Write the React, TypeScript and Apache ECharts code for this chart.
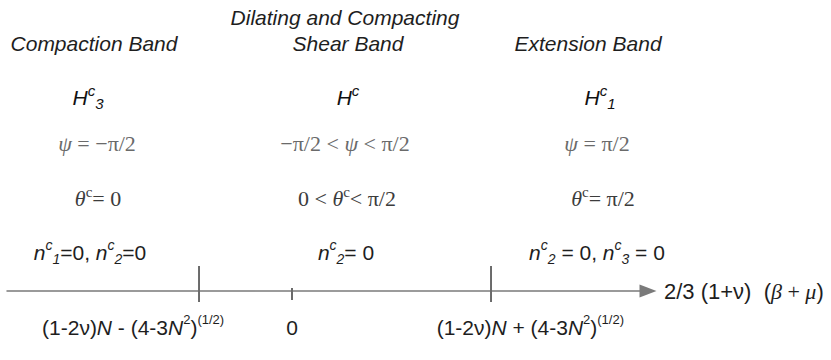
import React, { useEffect, useRef } from "react";
import * as echarts from "echarts";

// ---- data ----
// positions of the three marked points along the axis 2/3 (1+ν)(β+μ)
const tickValues = [-1, 0, 2.14];
const tickKinds = ["major", "minor", "major"];
const tickLabels = [
  "{r|(1-2ν)}{i|N}{r| - (4-3}{i|N}{sr|2}{r|)}{sr|(1/2)}",
  "{r|0}",
  "{r|(1-2ν)}{i|N}{r| + (4-3}{i|N}{sr|2}{r|)}{sr|(1/2)}",
];
const axisRange = [-3.065, 3.828];
const axisTitle = "{r|2/3 (1+ν)  (}{gi|β}{gr| + }{gi|μ}{r|)}";

const bandTitles = ["{t|Compaction Band}", "{t|Shear Band}", "{t|Extension Band}"];
const bandTitleTop = "{t|Dilating and Compacting}";
const hardening = ["{i|H}{hs|c}{hb|3}", "{i|H}{hs|c}", "{i|H}{hs|c}{hb|1}"];
const psiRow = [
  "{gi|ψ}{g| = −π/2}",
  "{g|−π/2 < }{gi|ψ}{g| < π/2}",
  "{gi|ψ}{g| = π/2}",
];
const thetaRow = [
  "{gi|θ}{gs|c}{g|= 0}",
  "{g|0 < }{gi|θ}{gs|c}{g|< π/2}",
  "{gi|θ}{gs|c}{g|= π/2}",
];
const normalRow = [
  "{i|n}{si|c}{sb|1}{r|=0, }{i|n}{si|c}{sb|2}{r|=0}",
  "{i|n}{si|c}{sb|2}{r|= 0}",
  "{i|n}{si|c}{sb|2}{r| = 0, }{i|n}{si|c}{sb|3}{r| = 0}",
];

// ---- layout ----
const colX = {
  title: [94, 348, 588],
  H: [88, 348, 600],
  psi: [97, 345, 597],
  theta: [98, 347, 603],
  n: [90, 346, 597],
};
const rowY = { dil: 17, title: 43, H: 97, psi: 143, theta: 198, n: 252, axis: 291, bottom: 327 };
// label anchor relative to its tick, and alignment
const labelShift = [-157, 0, 133];
const labelAlign = ["left", "center", "right"];

const SANS = "'Liberation Sans', Arial, Helvetica, sans-serif";
const SERIF = "'Liberation Serif', 'Times New Roman', serif";

function zrRich(main: string, gray: string) {
  return {
    t: { fontFamily: SANS, fontStyle: "italic", fontSize: 21, lineHeight: 28, fill: main },
    i: { fontFamily: SANS, fontStyle: "italic", fontSize: 21, lineHeight: 28, fill: main },
    r: { fontFamily: SANS, fontSize: 21, lineHeight: 28, fill: main },
    si: { fontFamily: SANS, fontStyle: "italic", fontSize: 14, lineHeight: 15, verticalAlign: "top", fill: main },
    sr: { fontFamily: SANS, fontSize: 13, lineHeight: 14, verticalAlign: "top", fill: main },
    sb: { fontFamily: SANS, fontStyle: "italic", fontSize: 14, lineHeight: 15, verticalAlign: "bottom", fill: main },
    hs: { fontFamily: SANS, fontStyle: "italic", fontSize: 15, lineHeight: 16, verticalAlign: "top", fill: main },
    hb: { fontFamily: SANS, fontStyle: "italic", fontSize: 15, lineHeight: 15, verticalAlign: "bottom", fill: main },
    g: { fontFamily: SERIF, fontSize: 22, lineHeight: 28, fill: gray },
    gi: { fontFamily: SERIF, fontStyle: "italic", fontSize: 22, lineHeight: 28, fill: gray },
    gs: { fontFamily: SERIF, fontSize: 15, lineHeight: 16, verticalAlign: "top", fill: gray },
  };
}

function textEl(text: string, x: number, y: number, main = "#1e1e1e", gray = "#555") {
  return {
    type: "text",
    x,
    y,
    silent: true,
    style: {
      text,
      rich: zrRich(main, gray),
      align: "center",
      verticalAlign: "middle",
      fill: main,
    },
  };
}

export default function App() {
  const ref = useRef<HTMLDivElement>(null);
  useEffect(() => {
    if (!ref.current) return;
    const chart = echarts.init(ref.current, null, { renderer: "svg" });
    const graphics: any[] = [];
    graphics.push(textEl(bandTitleTop, 345, rowY.dil));
    bandTitles.forEach((t, i) => graphics.push(textEl(t, colX.title[i], rowY.title)));
    hardening.forEach((t, i) => graphics.push(textEl(t, colX.H[i], rowY.H, "#111")));
    psiRow.forEach((t, i) => graphics.push(textEl(t, colX.psi[i], rowY.psi, "#6a6a6a", "#6a6a6a")));
    thetaRow.forEach((t, i) => graphics.push(textEl(t, colX.theta[i], rowY.theta, "#3c3c3c", "#3c3c3c")));
    normalRow.forEach((t, i) => graphics.push(textEl(t, colX.n[i], rowY.n, "#1e1e1e")));

    const richName = {
      r: { fontFamily: SANS, fontSize: 22, lineHeight: 28, color: "#1e1e1e" },
      gi: { fontFamily: SERIF, fontStyle: "italic", fontSize: 22, lineHeight: 28, color: "#1e1e1e" },
      gr: { fontFamily: SERIF, fontSize: 22, lineHeight: 28, color: "#1e1e1e" },
    };

    chart.setOption({
      animation: false,
      backgroundColor: "#ffffff",
      grid: { left: 7, right: 831 - 648, top: 200, bottom: 360 - rowY.axis, containLabel: false },
      xAxis: {
        type: "value",
        min: axisRange[0],
        max: axisRange[1],
        name: axisTitle,
        nameLocation: "end",
        nameGap: 16,
        nameTextStyle: { align: "left", verticalAlign: "middle", rich: richName },
        axisLine: {
          show: true,
          symbol: ["none", "triangle"],
          symbolSize: [13, 17],
          lineStyle: { color: "#7a7a7a", width: 1.5 },
        },
        axisTick: { show: false },
        axisLabel: { show: false },
        splitLine: { show: false },
      },
      yAxis: { type: "value", min: 0, max: 1, show: false },
      graphic: graphics,
      series: [
        {
          type: "custom",
          silent: true,
          data: tickValues.map((v, i) => [v, i]),
          renderItem: (_params: any, api: any) => {
            const i = api.value(1);
            const p = api.coord([api.value(0), 0]);
            const major = tickKinds[i] === "major";
            return {
              type: "group",
              children: [
                {
                  type: "line",
                  shape: { x1: p[0], y1: p[1] + (major ? -25 : -3), x2: p[0], y2: p[1] + (major ? 11 : 9) },
                  style: { stroke: "#6a6a6a", lineWidth: 2 },
                },
                {
                  type: "text",
                  x: p[0] + labelShift[i],
                  y: rowY.bottom,
                  style: {
                    text: tickLabels[i],
                    rich: zrRich("#1e1e1e", "#1e1e1e"),
                    align: labelAlign[i],
                    verticalAlign: "middle",
                  },
                },
              ],
            };
          },
        },
      ],
    });
    return () => chart.dispose();
  }, []);
  return (
    <div
      ref={ref}
      style={{ position: "absolute", left: 0, top: 0, width: 831, height: 360, background: "#fff" }}
    />
  );
}
